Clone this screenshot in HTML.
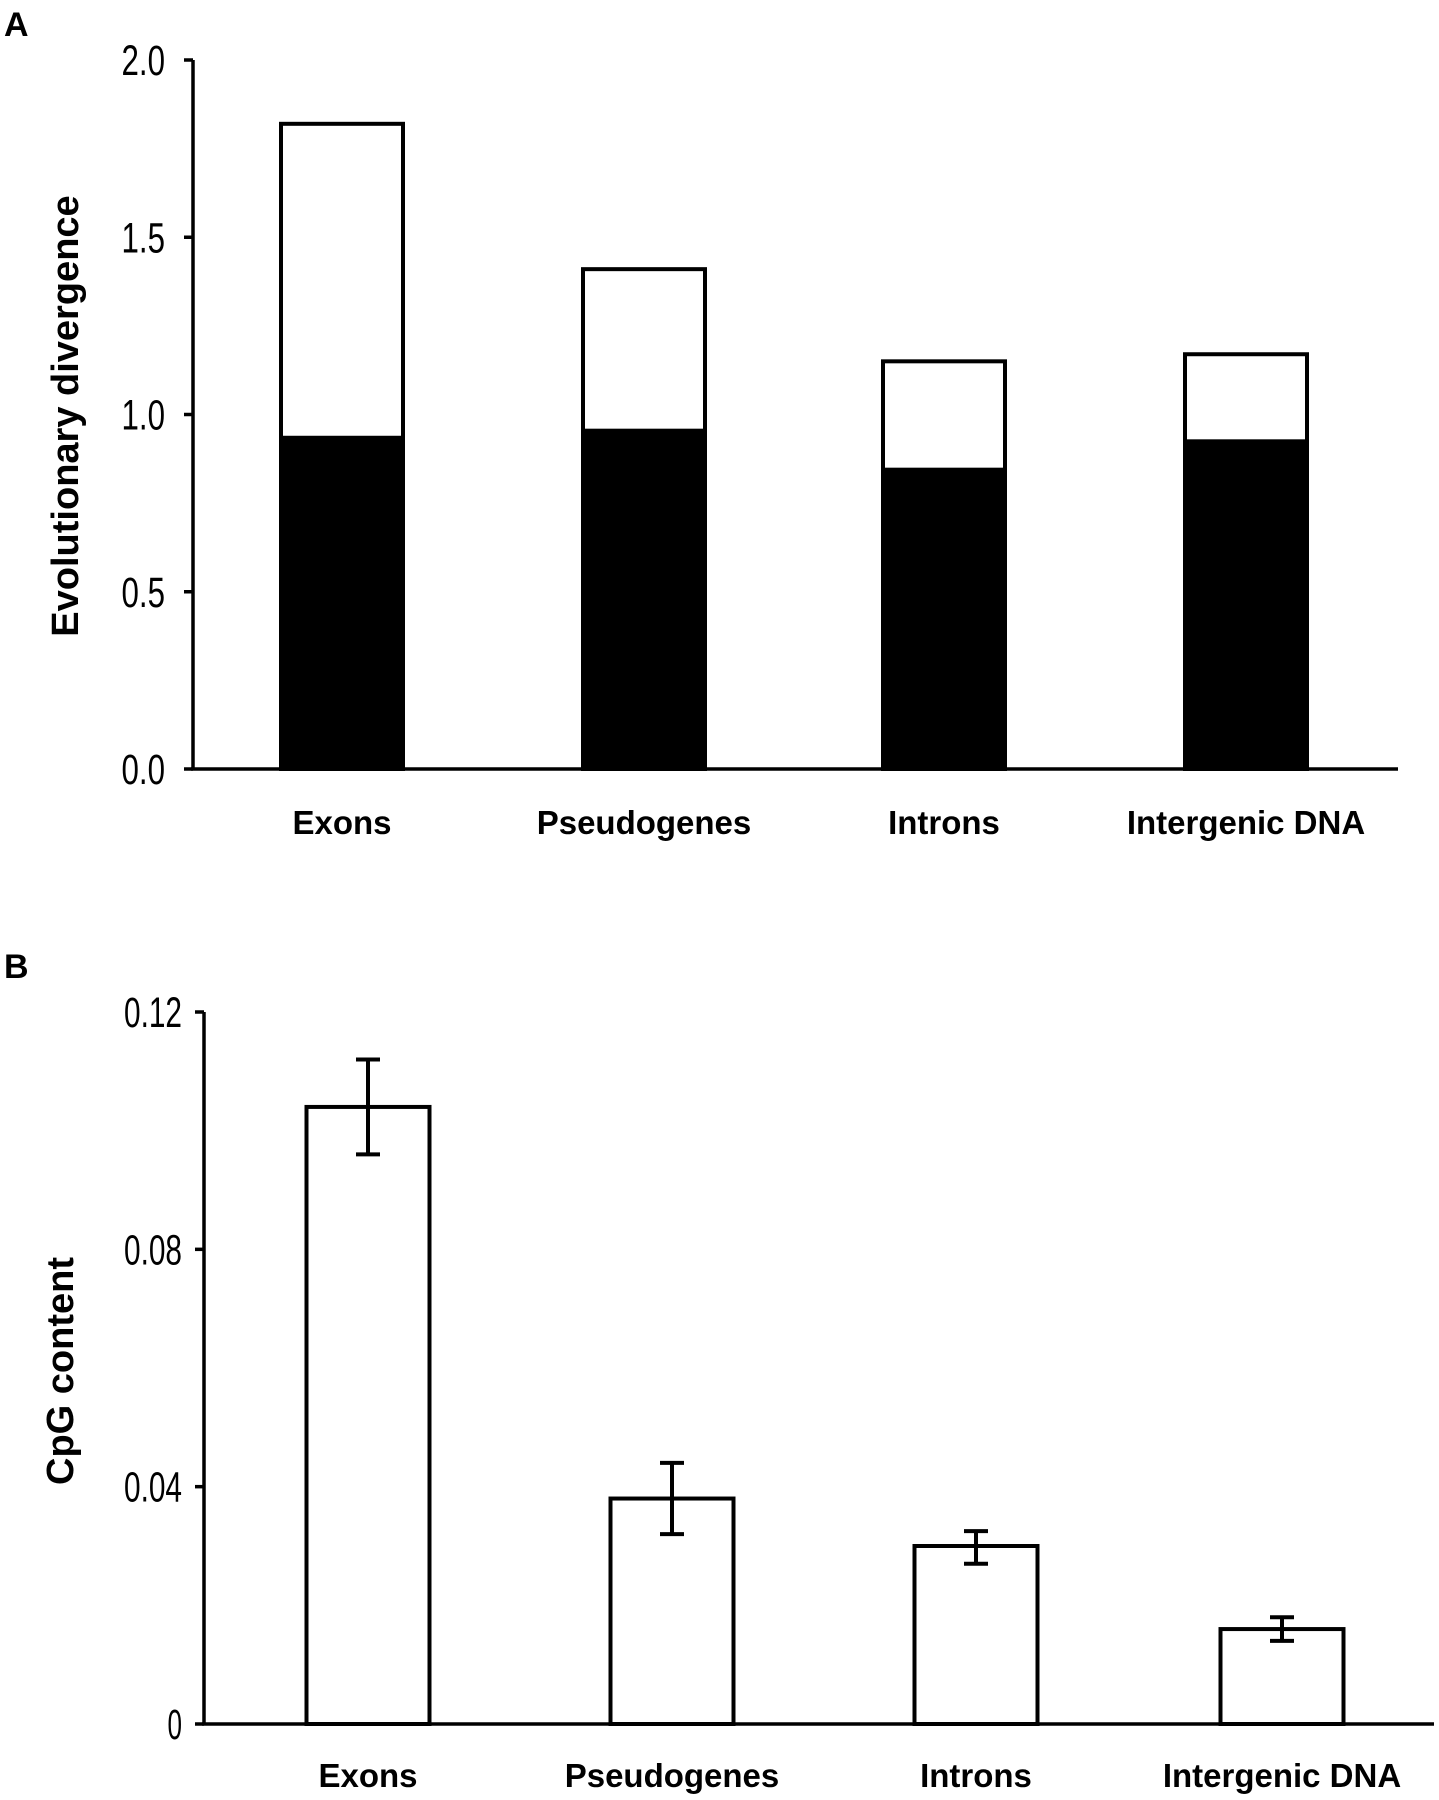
<!DOCTYPE html>
<html><head><meta charset="utf-8"><style>
html,body{margin:0;padding:0;background:#fff;}
svg{display:block;font-family:"Liberation Sans",Arial,sans-serif;}
</style></head><body>
<svg id="fig" width="1439" height="1800" viewBox="0 0 1439 1800">
<text x="4" y="36" font-size="34" font-weight="bold">A</text>
<text x="4" y="978" font-size="34" font-weight="bold">B</text>
<g id="chartA"></g>
<g id="chartB"></g>
</svg>
<script>
const categories = ["Exons","Pseudogenes","Introns","Intergenic DNA"];
const divTotal = [1.82, 1.41, 1.15, 1.17];
const divLower = [0.94, 0.96, 0.85, 0.93];
const ticksA = [0, 0.5, 1.0, 1.5, 2.0];
const tickLabelsA = ["0.0","0.5","1.0","1.5","2.0"];
const cpgValues = [0.104, 0.038, 0.030, 0.016];
const cpgErrLow = [0.096, 0.032, 0.027, 0.014];
const cpgErrHigh = [0.112, 0.044, 0.0325, 0.018];
const ticksB = [0, 0.04, 0.08, 0.12];
const tickLabelsB = ["0","0.04","0.08","0.12"];

const NS = "http://www.w3.org/2000/svg";
function mk(parent, tag, attrs){const e=document.createElementNS(NS,tag);for(const k in attrs)e.setAttribute(k,attrs[k]);parent.appendChild(e);return e;}
function tickText(g, x, yy, s){
 const tl=mk(g,'text',{x:x,y:yy+15,'font-size':43,'text-anchor':'end',textLength:s.length*14.5,lengthAdjust:'spacingAndGlyphs'});
 tl.textContent=s;
 return tl;
}

// Panel A
(function(){
const g=document.getElementById('chartA');
const x0=193, x1=1398, yTop=60, yBot=769, vmax=2.0;
const y=v=>yBot-(v/vmax)*(yBot-yTop);
const barCenters=[342,644,944,1246], bw=122;
let e=mk(g,'line',{x1:x0,y1:yTop,x2:x0,y2:yBot+1,stroke:'#000','stroke-width':3.5});


e=mk(g,'line',{x1:x0-2,y1:yBot,x2:x1,y2:yBot,stroke:'#000','stroke-width':3.5});


ticksA.forEach((t,i)=>{
 const tk=mk(g,'line',{x1:x0-9,y1:y(t),x2:x0,y2:y(t),stroke:'#000','stroke-width':3.5});
 
 
 const tl=tickText(g,x0-28,y(t),tickLabelsA[i]);
 
 
});
categories.forEach((c,i)=>{
 const cx=barCenters[i];
 const r=mk(g,'rect',{x:cx-bw/2,y:y(divTotal[i]),width:bw,height:yBot-y(divTotal[i]),fill:'#fff',stroke:'#000','stroke-width':4});
 
 
 const b=mk(g,'rect',{x:cx-bw/2-2,y:y(divLower[i]),width:bw+4,height:yBot-y(divLower[i]),fill:'#000'});
 
 
 const l=mk(g,'text',{x:cx,y:834,'font-size':33,'font-weight':'bold','text-anchor':'middle'});
 l.textContent=c;
 
 
});
const t=mk(g,'text',{x:0,y:0,'font-size':38,'font-weight':'bold','text-anchor':'middle',transform:'translate(78,416) rotate(-90)'});
t.textContent='Evolutionary divergence';


})();

// Panel B
(function(){
const g=document.getElementById('chartB');
const x0=204, x1=1434, yTop=1012, yBot=1724, vmax=0.12;
const y=v=>yBot-(v/vmax)*(yBot-yTop);
const barCenters=[368,672,976,1282], bw=123;
let e=mk(g,'line',{x1:x0,y1:yTop,x2:x0,y2:yBot+1,stroke:'#000','stroke-width':3.5});


e=mk(g,'line',{x1:x0-2,y1:yBot,x2:x1,y2:yBot,stroke:'#000','stroke-width':3.5});


ticksB.forEach((tv,i)=>{
 const tk=mk(g,'line',{x1:x0-9,y1:y(tv),x2:x0,y2:y(tv),stroke:'#000','stroke-width':3.5});
 
 
 const tl=tickText(g,x0-22,y(tv),tickLabelsB[i]);
 
 
});
categories.forEach((c,i)=>{
 const cx=barCenters[i];
 const r=mk(g,'rect',{x:cx-bw/2,y:y(cpgValues[i]),width:bw,height:yBot-y(cpgValues[i]),fill:'#fff',stroke:'#000','stroke-width':4});
 
 
 const eb=mk(g,'path',{d:`M${cx},${y(cpgErrLow[i])}V${y(cpgErrHigh[i])}M${cx-12},${y(cpgErrLow[i])}H${cx+12}M${cx-12},${y(cpgErrHigh[i])}H${cx+12}`,stroke:'#000','stroke-width':4,fill:'none'});
 
 
 const l=mk(g,'text',{x:cx,y:1787,'font-size':33,'font-weight':'bold','text-anchor':'middle'});
 l.textContent=c;
 
 
});
const t=mk(g,'text',{x:0,y:0,'font-size':38,'font-weight':'bold','text-anchor':'middle',transform:'translate(73,1371) rotate(-90)'});
t.textContent='CpG content';


})();
</script>
</body></html>
